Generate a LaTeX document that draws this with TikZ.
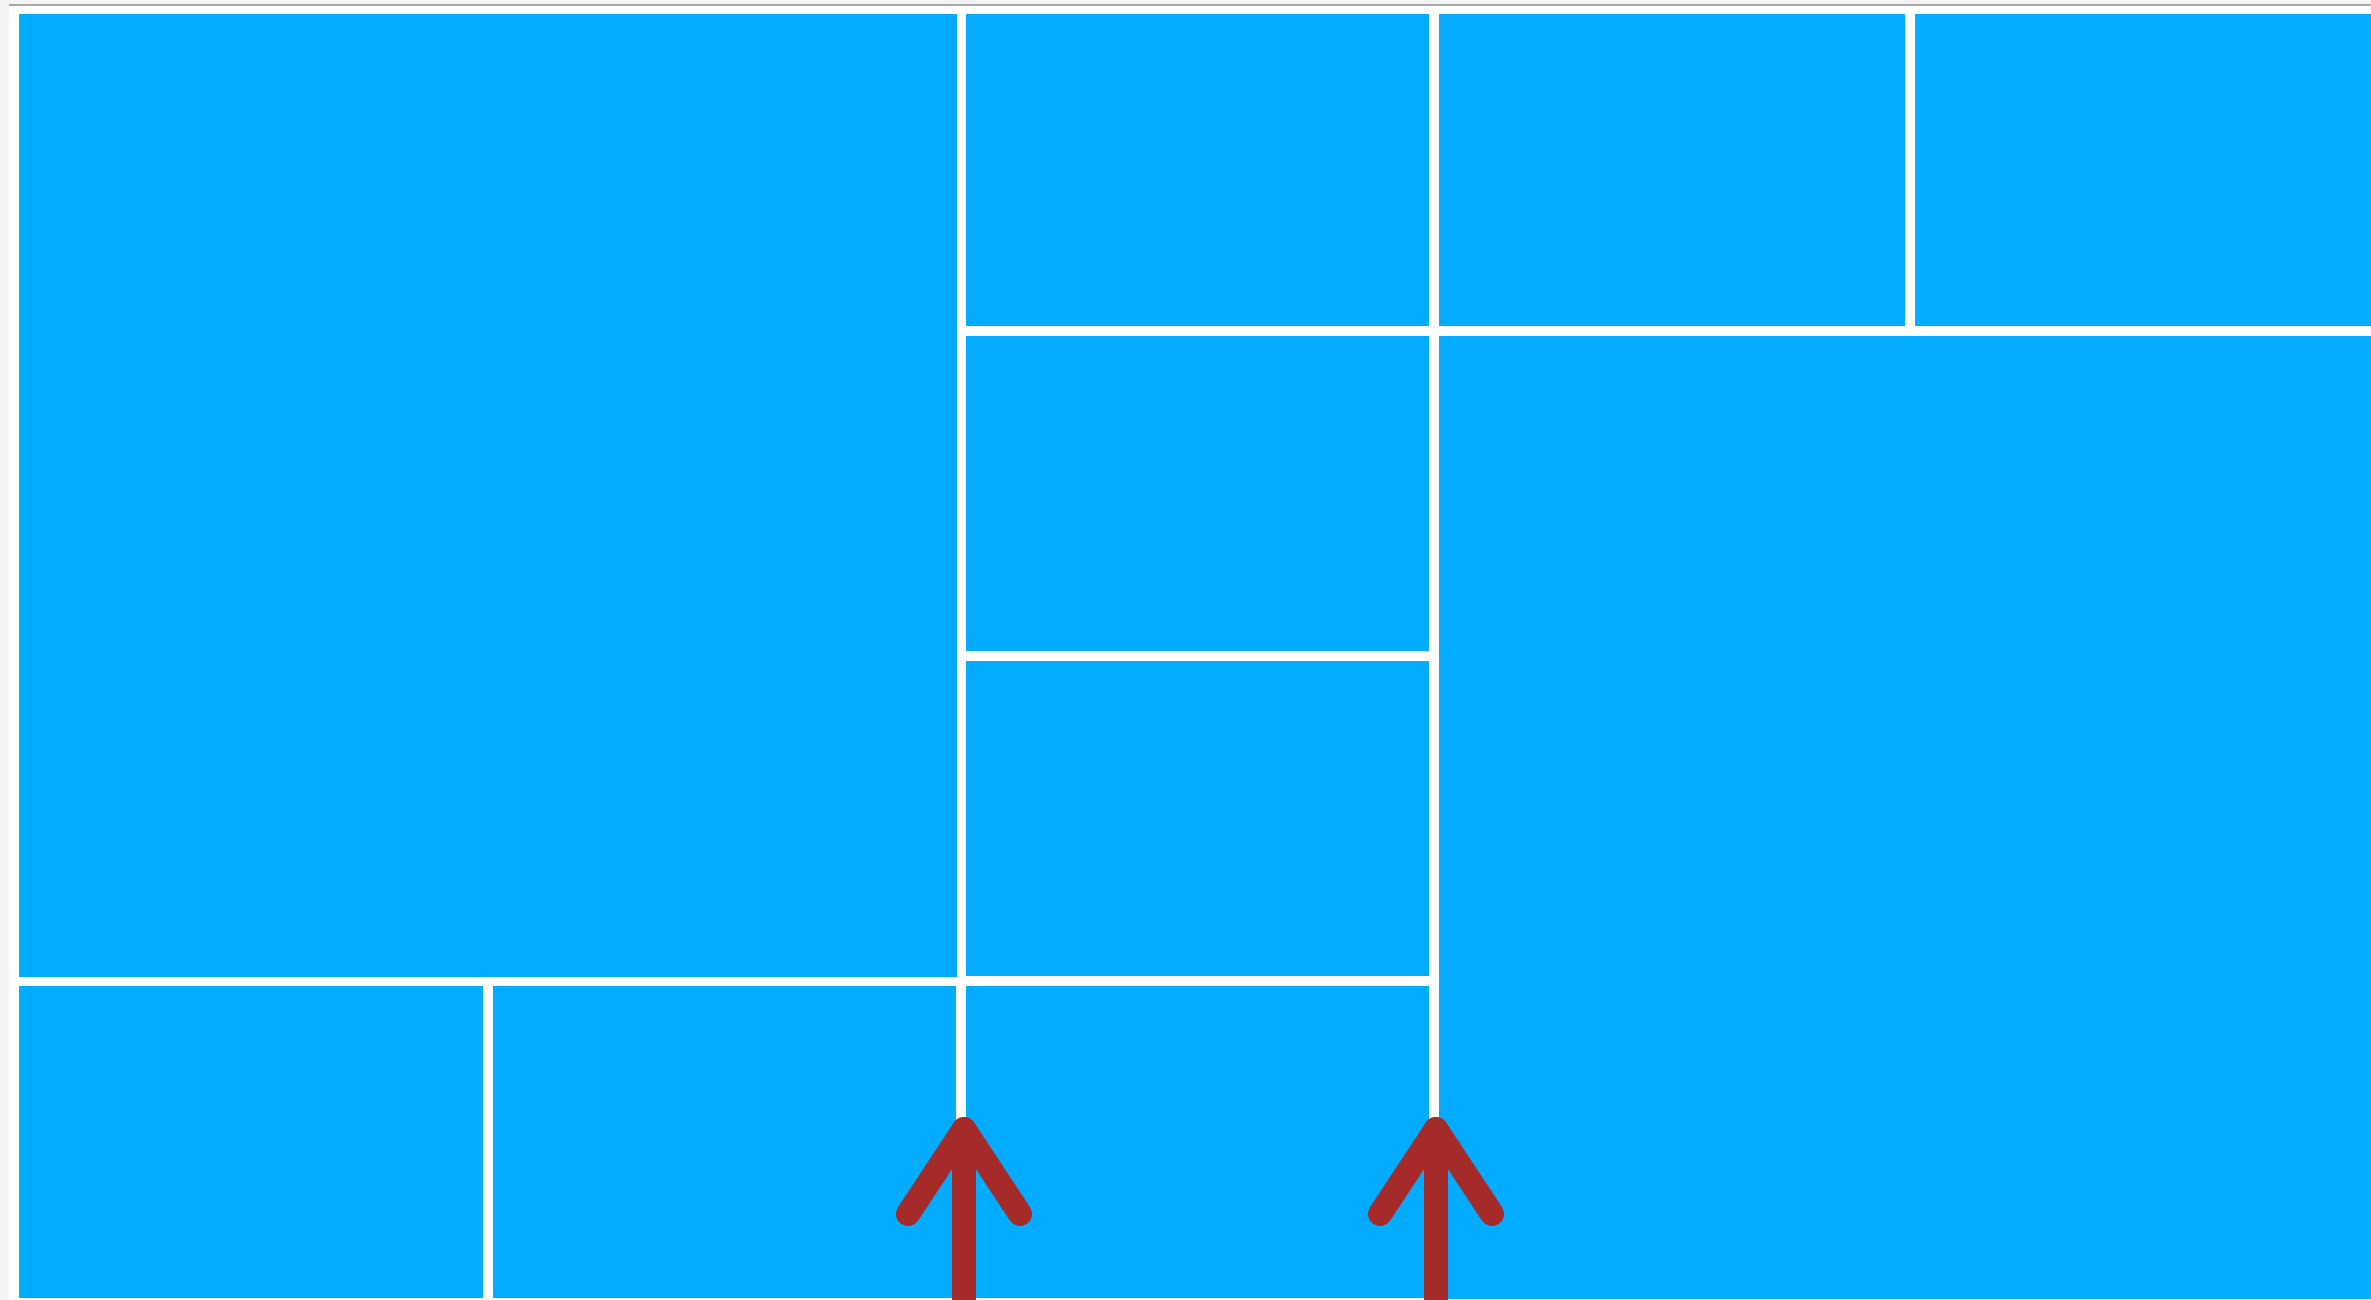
\documentclass[tikz,border=0pt]{standalone}
\usepackage{xcolor}
\usepackage{tikz}
\usetikzlibrary{calc}
\definecolor{tileblue}{HTML}{03ACFF}
\definecolor{arrowbrown}{HTML}{A52A2A}
\definecolor{pagegray}{HTML}{F3F3F3}
\definecolor{rulegray}{HTML}{A8A8A8}

\begin{document}
\begin{tikzpicture}[
    x=0.01cm, y=-0.01cm,
    tile/.style={fill=tileblue, inner sep=0pt, outer sep=0pt, anchor=north west},
    arr/.style={draw=arrowbrown, line width=0.24cm, line cap=round, line join=round},
]
    \useasboundingbox (0,0) rectangle (2371,1300);

    % page margin
    \fill[pagegray] (0,0) rectangle (2371,1300);
    \fill[white] (9,6) rectangle (2371,1300);
    \draw[rulegray, line width=0.02cm] (9,5) -- (2371,5);

    % left block
    \node[tile, minimum width=9.37cm, minimum height=9.62cm] (bigleft) at (19,14) {};
    \node[tile, minimum width=4.64cm, minimum height=3.12cm] (lowleft) at (19,986) {};
    \node[tile, minimum width=4.63cm, minimum height=3.12cm] (lowmid) at (493,986) {};

    % middle column
    \node[tile, minimum width=4.63cm, minimum height=3.12cm] (colA) at (966,14) {};
    \node[tile, minimum width=4.63cm, minimum height=3.15cm] (colB) at (966,336) {};
    \node[tile, minimum width=4.63cm, minimum height=3.15cm] (colC) at (966,661) {};
    \node[tile, minimum width=4.63cm, minimum height=3.12cm] (colD) at (966,986) {};

    % right block
    \node[tile, minimum width=4.66cm, minimum height=3.12cm] (topA) at (1439,14) {};
    \node[tile, minimum width=4.56cm, minimum height=3.12cm] (topB) at (1915,14) {};
    \node[tile, minimum width=9.32cm, minimum height=9.62cm] (bigright) at (1439,336) {};

    % arrows
    \coordinate (tip1) at (964,1129);
    \coordinate (tip2) at (1436,1129);
    \coordinate (foot1) at (964,1300);
    \coordinate (foot2) at (1436,1300);
    \foreach \t/\f in {tip1/foot1, tip2/foot2} {
        \draw[arr] (\f) -- (\t);
        \draw[arr] ($(\t)+(-56,85)$) -- (\t) -- ($(\t)+(56,85)$);
    }
\end{tikzpicture}
\end{document}
